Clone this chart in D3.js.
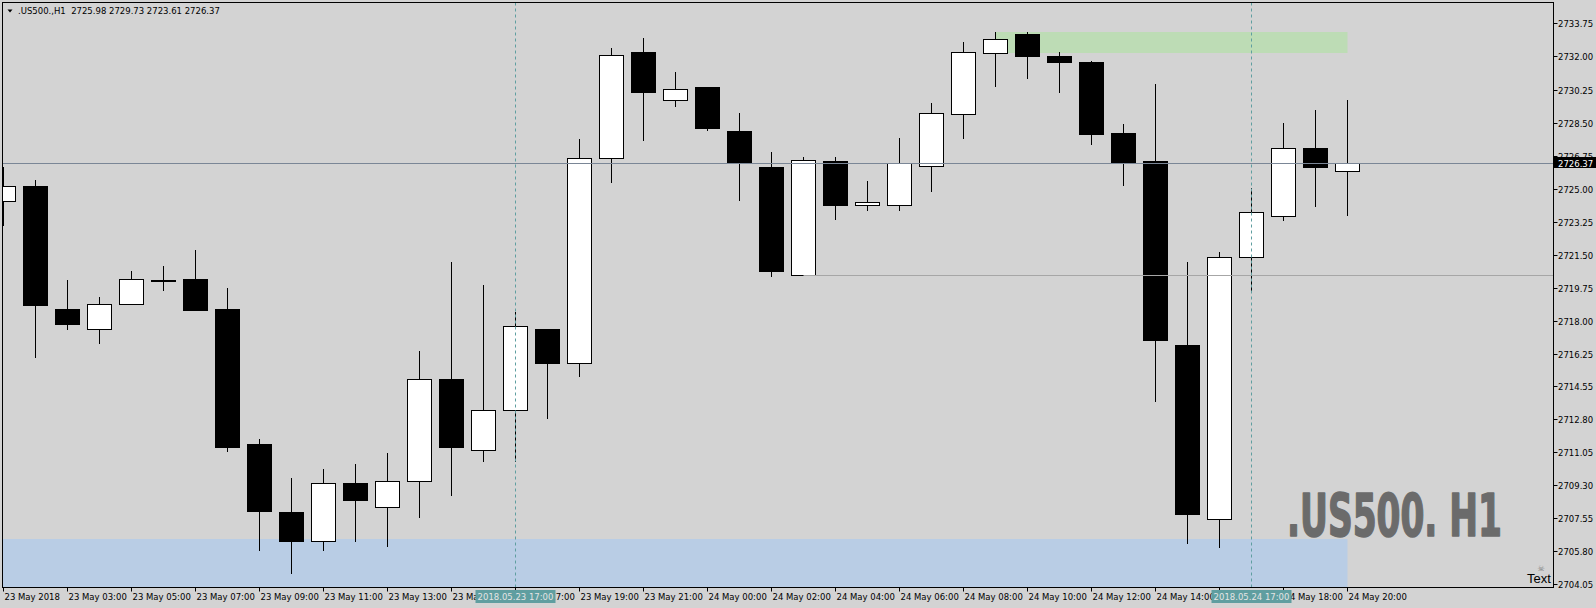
<!DOCTYPE html>
<html><head><meta charset="utf-8">
<script src="https://cdn.jsdelivr.net/npm/d3@7/dist/d3.min.js"></script>
<style>
html,body{margin:0;padding:0;background:#d3d3d3;overflow:hidden}
text{font-family:"DejaVu Sans",sans-serif}
</style></head>
<body>
<svg id="c" width="1596" height="608"></svg>
<script>
// ---- data ----
const barTimes = [
 "2018.05.23 01:00","2018.05.23 02:00","2018.05.23 03:00","2018.05.23 04:00","2018.05.23 05:00",
 "2018.05.23 06:00","2018.05.23 07:00","2018.05.23 08:00","2018.05.23 09:00","2018.05.23 10:00",
 "2018.05.23 11:00","2018.05.23 12:00","2018.05.23 13:00","2018.05.23 14:00","2018.05.23 15:00",
 "2018.05.23 16:00","2018.05.23 17:00","2018.05.23 18:00","2018.05.23 19:00","2018.05.23 20:00",
 "2018.05.23 21:00","2018.05.23 22:00","2018.05.24 00:00","2018.05.24 01:00","2018.05.24 02:00",
 "2018.05.24 03:00","2018.05.24 04:00","2018.05.24 05:00","2018.05.24 06:00","2018.05.24 07:00",
 "2018.05.24 08:00","2018.05.24 09:00","2018.05.24 10:00","2018.05.24 11:00","2018.05.24 12:00",
 "2018.05.24 13:00","2018.05.24 14:00","2018.05.24 15:00","2018.05.24 16:00","2018.05.24 17:00",
 "2018.05.24 18:00","2018.05.24 19:00","2018.05.24 20:00"];
const opens  = [2724.40,2725.16,2718.64,2717.62,2718.90,2720.19,2720.23,2718.64,2711.49,2707.88,
                2706.39,2709.42,2708.16,2709.54,2714.93,2711.17,2713.28,2717.62,2715.77,2726.63,
                2732.25,2729.70,2730.42,2728.08,2726.17,2720.43,2726.49,2724.18,2724.18,2726.25,
                2728.96,2732.19,2733.22,2732.03,2731.71,2727.98,2726.49,2716.75,2707.56,2721.39,
                2723.60,2727.17,2725.98];
const highs  = [2726.15,2725.49,2720.17,2719.28,2720.67,2720.93,2721.79,2719.76,2711.75,2709.70,
                2710.17,2710.45,2711.01,2716.43,2721.15,2719.93,2718.52,2717.62,2727.65,2732.47,
                2733.00,2731.21,2730.42,2729.04,2726.97,2726.71,2726.71,2725.44,2727.71,2729.56,
                2732.79,2733.32,2733.32,2732.29,2731.79,2728.44,2730.57,2721.15,2721.67,2725.06,
                2728.50,2729.18,2729.73];
const lows   = [2723.12,2716.13,2717.62,2716.87,2718.90,2719.64,2718.62,2711.15,2705.91,2704.66,
                2705.91,2706.39,2706.13,2707.66,2708.78,2710.63,2710.63,2712.90,2715.13,2725.39,
                2727.63,2729.42,2728.14,2724.42,2720.41,2720.43,2723.44,2723.92,2723.92,2724.92,
                2727.69,2730.44,2730.89,2730.16,2727.41,2725.20,2713.76,2706.27,2706.07,2719.58,
                2723.38,2724.12,2723.61];
const closes = [2725.16,2718.88,2717.88,2718.90,2720.23,2720.19,2718.62,2711.37,2707.98,2706.39,
                2709.42,2708.52,2709.54,2714.93,2711.37,2713.28,2717.74,2715.77,2726.63,2732.13,
                2730.16,2730.32,2728.24,2726.43,2720.69,2726.53,2724.16,2724.30,2726.37,2729.02,
                2732.29,2732.94,2732.03,2731.71,2727.94,2726.43,2716.99,2707.82,2721.39,2723.78,
                2727.17,2726.15,2726.37];
const yTickLabels = ["2733.75","2732.00","2730.25","2728.50","2726.75","2725.00","2723.25","2721.50",
                     "2719.75","2718.00","2716.25","2714.55","2712.80","2711.05","2709.30","2707.55",
                     "2705.80","2704.05"];
const xTickIndex = [0,2,4,6,8,10,12,14,16,18,20,22,24,26,28,30,32,34,36,38,40,42];
const xTickLabels = ["23 May 2018","23 May 03:00","23 May 05:00","23 May 07:00","23 May 09:00",
  "23 May 11:00","23 May 13:00","23 May 15:00","23 May 17:00","23 May 19:00","23 May 21:00",
  "24 May 00:00","24 May 02:00","24 May 04:00","24 May 06:00","24 May 08:00","24 May 10:00",
  "24 May 12:00","24 May 14:00","24 May 16:00","24 May 18:00","24 May 20:00"];
const markedIndex = [16,39];                 // vertical dashed lines
const markedLabels = ["2018.05.23 17:00","2018.05.24 17:00"];
const symbolTitle = ".US500.,H1";
const watermark = ".US500. H1";
const bidPrice = 2726.37;
const levelLine = {from:25, price:2720.43};
const blueZone = {to:42, top:2706.49, bottom:2700};
const greenZone = {from:31, to:42, top:2733.32, bottom:2732.23};

// ---- layout ----
const svg = d3.select("#c");
const L=2.5, R=1553.5, T=2.5, B=587.5;
const FS = 8.5;
const x = d3.scaleLinear().domain([0,42]).range([3.5,1347.5]);
const y = d3.scaleLinear().domain([2704.05,2726.37]).range([584.8,163.3]);
const px = v => Math.floor(v)+0.5;

svg.append("rect").attr("width",1596).attr("height",608).attr("fill","#d3d3d3");
svg.append("clipPath").attr("id","pc").append("rect")
   .attr("x",L+0.5).attr("y",T+0.5).attr("width",R-L-1).attr("height",B-T-1);
const g = svg.append("g").attr("clip-path","url(#pc)");

// zones
g.append("rect").attr("x",0).attr("width",x(blueZone.to)).attr("y",Math.round(y(blueZone.top)))
  .attr("height",Math.round(y(blueZone.bottom))-Math.round(y(blueZone.top))).attr("fill","#b9cde5");
g.append("rect").attr("x",x(greenZone.from)).attr("width",x(greenZone.to)-x(greenZone.from))
  .attr("y",Math.round(y(greenZone.top))).attr("height",Math.round(y(greenZone.bottom))-Math.round(y(greenZone.top)))
  .attr("fill","#bddcb5");

// candles
const bars = d3.range(barTimes.length).map(i=>({i,o:opens[i],h:highs[i],l:lows[i],c:closes[i]}));
const cg = g.append("g");
cg.selectAll("line.w").data(bars).join("line")
  .attr("x1",d=>x(d.i)).attr("x2",d=>x(d.i))
  .attr("y1",d=>Math.round(y(d.h))).attr("y2",d=>Math.round(y(d.l))+1)
  .attr("stroke","#000").attr("stroke-width",1);
bars.forEach(d=>{
  const top=Math.round(y(Math.max(d.o,d.c))), bot=Math.round(y(Math.min(d.o,d.c)));
  const cx=x(d.i);
  if (d.c>d.o) {
    cg.append("rect").attr("x",cx-12).attr("y",top+0.5).attr("width",24)
      .attr("height",Math.max(1,bot-top)).attr("fill","#fff").attr("stroke","#000").attr("stroke-width",1);
  } else {
    cg.append("rect").attr("x",cx-12.5).attr("y",top).attr("width",25)
      .attr("height",Math.max(2,bot-top+1)).attr("fill","#000");
  }
});

// horizontal lines
g.append("line").attr("x1",x(levelLine.from)).attr("x2",R).attr("y1",px(y(levelLine.price))).attr("y2",px(y(levelLine.price)))
  .attr("stroke","#a6a6a6").attr("stroke-width",1);
g.append("line").attr("x1",L).attr("x2",R).attr("y1",px(y(bidPrice))).attr("y2",px(y(bidPrice)))
  .attr("stroke","#7a8696").attr("stroke-width",1);

// vertical dashed lines
g.selectAll("line.v").data(markedIndex).join("line")
  .attr("x1",d=>x(d)).attr("x2",d=>x(d)).attr("y1",T).attr("y2",B)
  .attr("stroke","#5f9ea0").attr("stroke-width",1).attr("stroke-dasharray","3,3");

// watermark
svg.append("text").attr("x",1287).attr("y",536).attr("font-size",59).attr("font-weight","bold")
  .attr("textLength",215).attr("lengthAdjust","spacingAndGlyphs")
  .style("font-family","'DejaVu Sans Condensed','DejaVu Sans',sans-serif")
  .attr("fill","#6b6b6b").attr("stroke","#6b6b6b").attr("stroke-width",1.6)
  .attr("stroke-linejoin","round").text(watermark);

// "Text" object and icon
svg.append("text").attr("x",1541).attr("y",571).attr("font-size",8).attr("text-anchor","middle")
  .attr("fill","#808080").text("\u2620");
svg.append("text").attr("x",1527).attr("y",583.3).attr("font-size",13)
  .style("font-family","'Liberation Sans',sans-serif").attr("fill","#000").text("Text");

// frame
svg.append("rect").attr("x",L).attr("y",T).attr("width",R-L).attr("height",B-T)
  .attr("fill","none").attr("stroke","#000").attr("stroke-width",1);

// y axis
const yt = svg.append("g");
yTickLabels.forEach(s=>{
  const v=+s, yy=px(y(v));
  yt.append("line").attr("x1",R).attr("x2",R+4).attr("y1",yy).attr("y2",yy).attr("stroke","#000");
  yt.append("text").attr("x",1558).attr("y",yy+3.3).attr("font-size",FS).attr("fill","#000").text(s);
});
// bid label
yt.append("rect").attr("x",1554).attr("y",Math.round(y(bidPrice))-6).attr("width",42).attr("height",11).attr("fill","#000");
yt.append("text").attr("x",1558).attr("y",px(y(bidPrice))+3.3).attr("font-size",FS).attr("fill","#fff")
  .text(bidPrice.toFixed(2));

// x axis
const xt = svg.append("g");
xTickIndex.forEach((idx,k)=>{
  const xx=x(idx);
  xt.append("line").attr("x1",xx).attr("x2",xx).attr("y1",B).attr("y2",B+4).attr("stroke","#000");
  xt.append("text").attr("x",xx+1).attr("y",599.5).attr("font-size",FS).attr("fill","#000").text(xTickLabels[k]);
});
markedIndex.forEach((idx,k)=>{
  const xx=x(idx);
  xt.append("rect").attr("x",xx-40).attr("y",590).attr("width",80).attr("height",13).attr("fill","#5f9ea0");
  xt.append("text").attr("x",xx).attr("y",599.5).attr("font-size",FS).attr("text-anchor","middle")
    .attr("fill","#e4e4e4").text(markedLabels[k]);
});

// title
svg.append("path").attr("d","M7.5,9.5 L12.5,9.5 L10,12.5 Z").attr("fill","#000");
const last = bars[bars.length-1];
svg.append("text").attr("x",18).attr("y",13.5).attr("font-size",FS).attr("fill","#000")
  .attr("xml:space","preserve").style("white-space","pre")
  .text(symbolTitle+"  "+[last.o,last.h,last.l,last.c].map(v=>v.toFixed(2)).join(" "));
</script>
</body></html>
